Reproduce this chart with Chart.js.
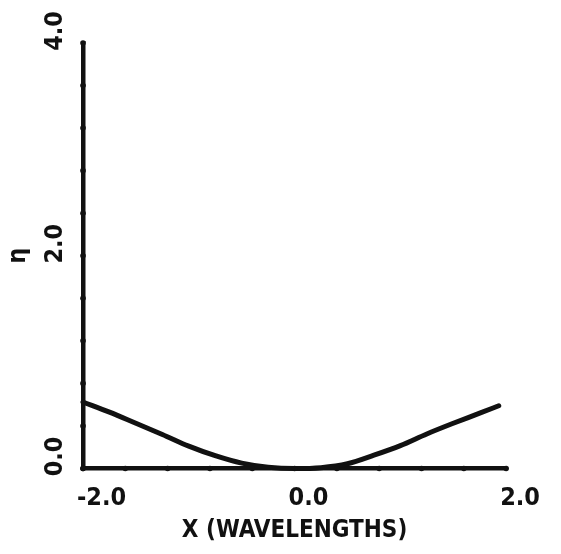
<!DOCTYPE html>
<html>
<head>
<meta charset="utf-8">
<script src="https://cdn.jsdelivr.net/npm/chart.js@4/dist/chart.umd.min.js"></script>
<style>
  html, body { margin: 0; padding: 0; background: #fff; }
  #wrap { width: 561px; height: 554px; }
</style>
</head>
<body>
<div id="wrap"><canvas id="c" width="561" height="554"></canvas></div>
<script>
// Surface elevation profile over horizontal distance
const xWavelengths = [-2.0, -1.75, -1.5, -1.25, -1.0, -0.75, -0.5, -0.25, 0.0, 0.25, 0.5, 0.75, 1.0, 1.25, 1.5, 1.75, 1.93];
const eta          = [0.625, 0.53, 0.425, 0.32, 0.21, 0.12, 0.05, 0.012, 0.0, 0.008, 0.045, 0.125, 0.215, 0.325, 0.425, 0.52, 0.59];

const xRange = [-2.0, 2.0];
const yRange = [0.0, 4.0];
const tickStep = 0.4;
const labelledEvery = 2.0;

const xTitle = 'X (WAVELENGTHS)';
const yTitle = 'η';

const INK = '#111';
const FONT_FAMILY = "'Liberation Sans Narrow', 'DejaVu Sans Condensed', 'Liberation Sans', sans-serif";

function tickText(v) {
  const r = v / labelledEvery;
  return Math.abs(r - Math.round(r)) < 1e-6 ? (Math.round(r) * labelledEvery).toFixed(1) : '';
}

// Small round blobs on each axis at every tick step
const axisDots = {
  id: 'axisDots',
  afterDraw(chart) {
    const { ctx, chartArea, scales } = chart;
    ctx.save();
    ctx.fillStyle = INK;
    scales.x.ticks.forEach(t => {
      const px = scales.x.getPixelForValue(t.value);
      ctx.beginPath();
      ctx.arc(px, chartArea.bottom, 2.8, 0, Math.PI * 2);
      ctx.fill();
    });
    scales.y.ticks.forEach(t => {
      const py = scales.y.getPixelForValue(t.value);
      ctx.beginPath();
      ctx.arc(chartArea.left, py, 2.8, 0, Math.PI * 2);
      ctx.fill();
    });
    ctx.restore();
  }
};

new Chart(document.getElementById('c'), {
  type: 'line',
  data: {
    datasets: [{
      data: xWavelengths.map((x, i) => ({ x, y: eta[i] })),
      borderColor: INK,
      borderWidth: 5,
      borderCapStyle: 'round',
      borderJoinStyle: 'round',
      pointRadius: 0,
      cubicInterpolationMode: 'monotone',
      fill: false,
      clip: false
    }]
  },
  options: {
    responsive: false,
    animation: false,
    events: [],
    layout: { padding: { left: 0, right: 47, top: 37, bottom: 0 } },
    plugins: { legend: { display: false }, tooltip: { enabled: false }, title: { display: false } },
    scales: {
      x: {
        type: 'linear',
        min: xRange[0],
        max: xRange[1],
        grid: { display: false, drawTicks: false },
        border: { display: true, color: INK, width: 4.5 },
        ticks: {
          stepSize: tickStep,
          autoSkip: false,
          maxRotation: 0,
          align: 'start',
          labelOffset: -6,
          padding: 15,
          color: INK,
          font: { family: FONT_FAMILY, size: 25, weight: 'bold' },
          callback: tickText
        },
        title: {
          display: true,
          text: xTitle,
          color: INK,
          padding: { top: 0, bottom: 9 },
          font: { family: FONT_FAMILY, size: 24, weight: 'bold' }
        },
        afterFit(scale) { scale.height = 85.5; }
      },
      y: {
        type: 'linear',
        min: yRange[0],
        max: yRange[1],
        grid: { display: false, drawTicks: false },
        border: { display: true, color: INK, width: 4.5 },
        ticks: {
          stepSize: tickStep,
          autoSkip: false,
          minRotation: 90,
          maxRotation: 90,
          labelOffset: -32,
          padding: 28,
          color: INK,
          font: { family: FONT_FAMILY, size: 25, weight: 'bold' },
          callback: tickText
        },
        title: {
          display: true,
          text: yTitle,
          color: INK,
          padding: { top: 3, bottom: 0 },
          font: { family: FONT_FAMILY, size: 25, weight: 'bold' }
        },
        afterFit(scale) { scale.width = 83; }
      }
    }
  },
  plugins: [axisDots]
});
</script>
</body>
</html>
